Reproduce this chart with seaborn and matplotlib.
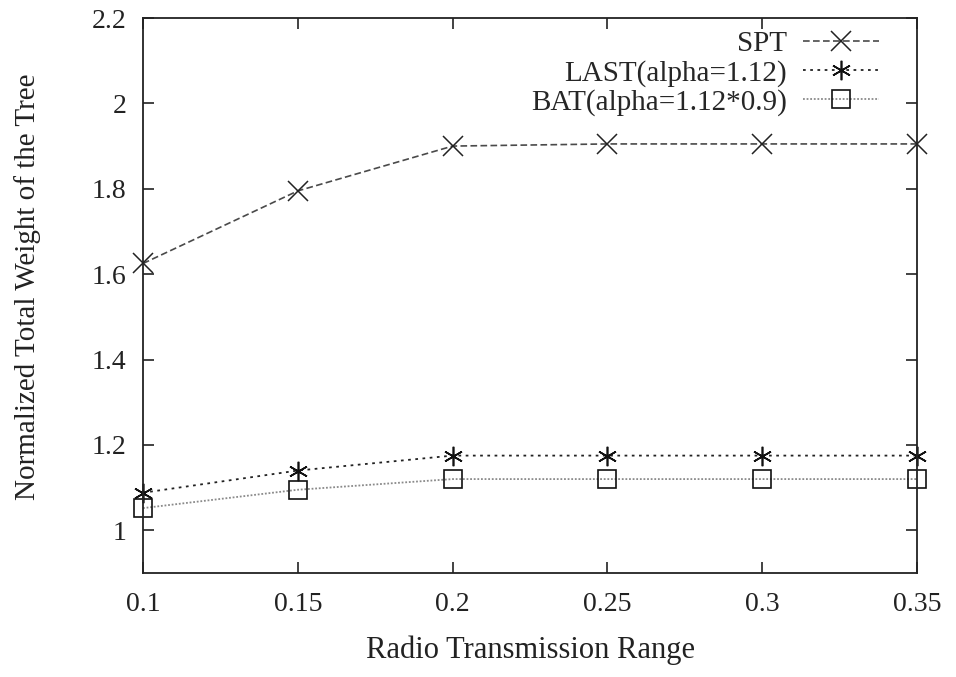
import matplotlib
matplotlib.use("Agg")
import matplotlib.pyplot as plt
import seaborn as sns
from matplotlib.ticker import FuncFormatter

# Data
ranges = [0.1, 0.15, 0.2, 0.25, 0.3, 0.35]
spt = [1.625, 1.795, 1.900, 1.905, 1.905, 1.905]
last = [1.088, 1.140, 1.175, 1.175, 1.175, 1.175]
bat = [1.052, 1.095, 1.120, 1.120, 1.120, 1.120]
labels = ["SPT", "LAST(alpha=1.12)", "BAT(alpha=1.12*0.9)"]
xticks = [0.1, 0.15, 0.2, 0.25, 0.3, 0.35]
yticks = [1.0, 1.2, 1.4, 1.6, 1.8, 2.0, 2.2]

sns.set_style("ticks")
plt.rcParams["font.family"] = ["Liberation Serif", "DejaVu Serif"]

fig = plt.figure(figsize=(9.56, 6.77), dpi=100)
ax = fig.add_axes([143/956, 1-573/677, (917-143)/956, (573-18)/677])

sns.lineplot(x=ranges, y=spt, ax=ax, color="#4a4a4a", linewidth=1.2,
             linestyle=(0, (4, 2)), marker="x", markersize=14,
             markeredgecolor="#222222", markeredgewidth=1.1, label=labels[0],
             clip_on=False)
sns.lineplot(x=ranges, y=last, ax=ax, color="#222222", linewidth=1.3,
             linestyle=(0, (1.5, 2.5)), marker=(6, 2, 0), markersize=14,
             markeredgecolor="#111111", markeredgewidth=1.2, label=labels[1],
             clip_on=False)
sns.lineplot(x=ranges, y=bat, ax=ax, color="#8a8a8a", linewidth=1.3,
             linestyle=(0, (1, 1)), marker="s", markersize=13,
             markerfacecolor="none", markeredgecolor="#111111",
             markeredgewidth=1.2, label=labels[2], clip_on=False)

ax.set_xlim(0.1, 0.35)
ax.set_ylim(0.9, 2.2)
ax.set_xticks(xticks)
ax.set_yticks(yticks)
ax.xaxis.set_major_formatter(FuncFormatter(lambda v, p: f"{v:g}"))
ax.yaxis.set_major_formatter(FuncFormatter(lambda v, p: f"{v:g}"))

for s in ax.spines.values():
    s.set_visible(True)
    s.set_linewidth(1.3)
    s.set_color("#222222")

ax.tick_params(axis="both", which="major", direction="in", length=8, width=1.2,
               top=True, right=True, labelsize=20, colors="#222222")
ax.tick_params(axis="x", pad=14)
ax.tick_params(axis="y", pad=12)

ax.set_xlabel("Radio Transmission Range", fontsize=22, labelpad=13, color="#222222")
ax.set_ylabel("Normalized Total Weight of the Tree", fontsize=21, color="#222222")
ax.yaxis.set_label_coords(-0.132, 0.515)

leg = ax.legend(loc="upper right", bbox_to_anchor=(879/956, 1-31/677),
                bbox_transform=fig.transFigure, frameon=False, markerfirst=False,
                fontsize=21, handlelength=2.6, handletextpad=0.55,
                labelspacing=0.08, borderpad=0, borderaxespad=0)

fig.savefig("out.png", dpi=100)
